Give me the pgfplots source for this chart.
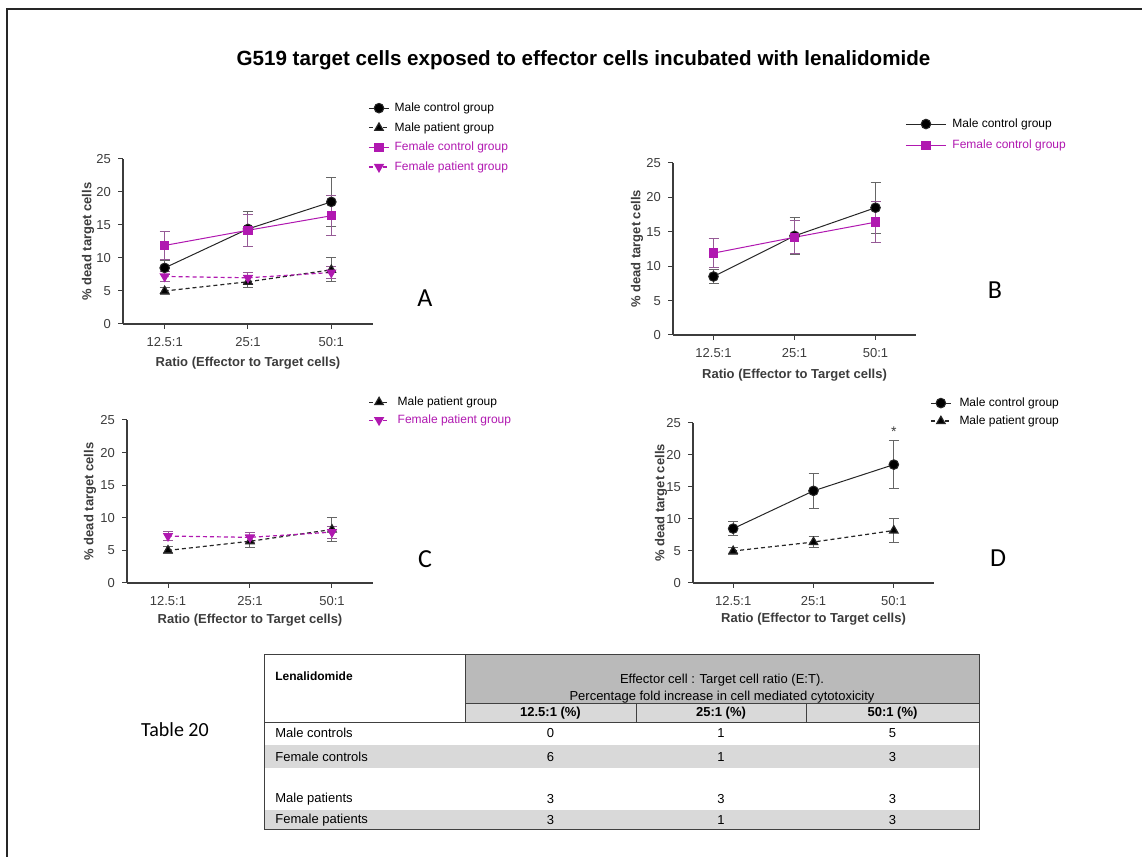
\documentclass[border=0pt]{standalone}
\usepackage{pgfplots}
\pgfplotsset{compat=1.18}
\usepackage{fontspec}
\setmainfont{Liberation Sans}
\newfontfamily\calibri{Carlito}
\definecolor{purp}{RGB}{176,24,176}
\definecolor{purpbar}{RGB}{150,90,150}
\definecolor{axgray}{RGB}{60,60,60}

\pgfplotsset{
  gp/.style={
    scale only axis, anchor=south west,
    xmin=-0.5,xmax=2.5,ymin=0,ymax=25,
    xtick={0,1,2}, xticklabels={12.5:1,25:1,50:1},
    ytick={0,5,10,15,20,25},
    axis x line*=bottom, axis y line*=left,
    axis line style={-, line width=0.6pt, axgray},
    tick align=outside, major tick length=2.5pt,
    tick style={line width=0.5pt, axgray},
    ticklabel style={font=\fontsize{6.5}{7.5}\selectfont, text=axgray},
    xticklabel style={yshift=-0.5pt},
    label style={font=\bfseries\fontsize{6.5}{8}\selectfont, text=axgray},
    xlabel={Ratio (Effector to Target cells)},
    ylabel={\% dead target cells},
    clip=false,
    /pgf/number format/assume math mode=true,
    legend cell align=left,
    legend style={draw=none, fill=none, anchor=north west,
      font=\fontsize{6}{7}\selectfont, inner sep=0pt,
      nodes={inner sep=0pt, text height=4.5pt, text depth=1.2pt},
      row sep=4.1pt, column sep=2.5pt},
    legend image code/.code={\draw[mark repeat=2,mark phase=2,#1] plot coordinates {(0pt,0pt) (5pt,0pt) (10pt,0pt)};},
  },
  ebk/.style={error bars/y dir=both, error bars/y explicit,
    error bars/error bar style={black!60, line width=0.5pt, solid},
    error bars/error mark options={rotate=90, mark size=2.5pt, black!60, line width=0.5pt, solid}},
  ebp/.style={error bars/y dir=both, error bars/y explicit,
    error bars/error bar style={purpbar, line width=0.5pt, solid},
    error bars/error mark options={rotate=90, mark size=2.5pt, purpbar, line width=0.5pt, solid}},
  mc/.style={black!85, line width=0.5pt, mark=*, mark size=2.4pt, mark options={solid, fill=black}, ebk},
  mp/.style={black!85, line width=0.6pt, dash pattern=on 2pt off 1.5pt, mark=triangle*, mark size=2.4pt, mark options={solid, fill=black}, ebk},
  fc/.style={purp, line width=0.5pt, mark=square*, mark size=2.1pt, mark options={solid, fill=purp}, ebp},
  fp/.style={purp, line width=0.6pt, dash pattern=on 2pt off 1.5pt, mark=triangle*, mark size=2.4pt, mark options={solid, fill=purp, rotate=180}, ebp},
}

\begin{document}
\begin{tikzpicture}
% frame
\draw[line width=1pt, black!85] (3.5pt,0pt) -- (3.5pt,424pt) -- (571pt,424pt);
% title
\node[font=\bfseries\fontsize{10.3}{12}\selectfont] at (291.75pt,398.5pt) {G519 target cells exposed to effector cells incubated with lenalidomide};

% Panel A
\begin{axis}[gp, at={(61.5pt,266.5pt)}, width=125pt, height=82.5pt,
  ylabel style={at={(axis description cs:-0.14,0.5)}, anchor=center},
  xlabel style={at={(axis description cs:0.5,-0.236)}, anchor=center},
  legend style={at={(axis description cs:0.98,1.345)}}]
\addplot[mc] coordinates {(0,8.5) +- (0,1.05) (1,14.4) +- (0,2.7) (2,18.5) +- (0,3.7)};
\addlegendentry{Male control group}
\addplot[mp] coordinates {(0,5.0) +- (0,0.55) (1,6.4) +- (0,0.9) (2,8.2) +- (0,1.8)};
\addlegendentry{Male patient group}
\addplot[fc] coordinates {(0,11.9) +- (0,2.15) (1,14.2) +- (0,2.4) (2,16.4) +- (0,3.0)};
\addlegendentry{\textcolor{purp}{Female control group}}
\addplot[fp] coordinates {(0,7.2) +- (0,0.7) (1,7.0) +- (0,0.8) (2,7.8) +- (0,0.9)};
\addlegendentry{\textcolor{purp}{Female patient group}}
\end{axis}

% Panel B
\begin{axis}[gp, at={(336.5pt,261pt)}, width=121.5pt, height=86pt,
  ylabel style={at={(axis description cs:-0.148,0.5)}, anchor=center},
  xlabel style={at={(axis description cs:0.5,-0.233)}, anchor=center},
  legend image code/.code={\draw[mark repeat=2,mark phase=2,#1] plot coordinates {(0pt,0pt) (10pt,0pt) (20pt,0pt)};},
  legend style={at={(axis description cs:0.955,1.262)}, row sep=5pt, column sep=3pt}]
\addplot[mc] coordinates {(0,8.5) +- (0,1.05) (1,14.4) +- (0,2.7) (2,18.5) +- (0,3.7)};
\addlegendentry{Male control group}
\addplot[fc] coordinates {(0,11.9) +- (0,2.15) (1,14.2) +- (0,2.4) (2,16.4) +- (0,3.0)};
\addlegendentry{\textcolor{purp}{Female control group}}
\end{axis}

% Panel C
\begin{axis}[gp, at={(63.5pt,137pt)}, width=123pt, height=81.5pt,
  ylabel style={at={(axis description cs:-0.15,0.5)}, anchor=center},
  xlabel style={at={(axis description cs:0.5,-0.227)}, anchor=center},
  legend style={at={(axis description cs:0.98,1.147)}, row sep=3.3pt, column sep=4pt}]
\addplot[mp] coordinates {(0,5.0) +- (0,0.55) (1,6.4) +- (0,0.9) (2,8.2) +- (0,1.8)};
\addlegendentry{Male patient group}
\addplot[fp] coordinates {(0,7.2) +- (0,0.7) (1,7.0) +- (0,0.8) (2,7.8) +- (0,0.9)};
\addlegendentry{\textcolor{purp}{Female patient group}}
\end{axis}

% Panel D
\begin{axis}[gp, at={(346.5pt,137pt)}, width=120.5pt, height=80pt,
  ylabel style={at={(axis description cs:-0.133,0.5)}, anchor=center},
  xlabel style={at={(axis description cs:0.5,-0.225)}, anchor=center},
  legend style={at={(axis description cs:0.983,1.1625)}, row sep=3.3pt, column sep=4pt}]
\addplot[mc] coordinates {(0,8.5) +- (0,1.05) (1,14.4) +- (0,2.7) (2,18.5) +- (0,3.7)};
\addlegendentry{Male control group}
\addplot[mp] coordinates {(0,5.0) +- (0,0.55) (1,6.4) +- (0,0.9) (2,8.2) +- (0,1.8)};
\addlegendentry{Male patient group}
\node[font=\fontsize{7}{8}\selectfont, text=axgray] at (axis cs:2,23.6) {*};
\end{axis}

% panel letters
\node[font=\calibri\fontsize{13}{15}\selectfont] at (212.5pt,279.5pt) {A};
\node[font=\calibri\fontsize{13}{15}\selectfont] at (497.5pt,283.5pt) {B};
\node[font=\calibri\fontsize{13}{15}\selectfont] at (212.5pt,149pt) {C};
\node[font=\calibri\fontsize{13}{15}\selectfont] at (499pt,149.5pt) {D};

% Table
\node[font=\calibri\fontsize{10}{12}\selectfont] at (87.5pt,63.5pt) {Table 20};
\fill[black!27] (232.5pt,76.5pt) rectangle (489.5pt,101pt);
\fill[black!15] (232.5pt,67pt) rectangle (489.5pt,76.5pt);
\fill[black!15] (132pt,44.5pt) rectangle (489.5pt,56pt);
\fill[black!15] (132pt,13.5pt) rectangle (489.5pt,23.5pt);
\draw[line width=0.5pt, black!75] (132pt,13.5pt) rectangle (489.5pt,101pt);
\draw[line width=0.5pt, black!75] (232.5pt,67pt) -- (232.5pt,101pt);
\draw[line width=0.5pt, black!75] (232.5pt,76.5pt) -- (489.5pt,76.5pt);
\draw[line width=0.5pt, black!75] (132pt,67pt) -- (489.5pt,67pt);
\draw[line width=0.5pt, black!75] (318pt,67pt) -- (318pt,76.5pt);
\draw[line width=0.5pt, black!75] (403pt,67pt) -- (403pt,76.5pt);
\begin{scope}[every node/.style={font=\fontsize{6.5}{8}\selectfont, inner sep=0pt}]
\node[anchor=west, font=\bfseries\fontsize{6}{7}\selectfont] at (137.5pt,90.5pt) {Lenalidomide};
\node at (361pt,88.5pt) {Effector cell : Target cell ratio (E:T).};
\node at (361pt,80pt) {Percentage fold increase in cell mediated cytotoxicity};
\node[font=\bfseries\fontsize{6.5}{8}\selectfont] at (275.25pt,71.75pt) {12.5:1 (\%)};
\node[font=\bfseries\fontsize{6.5}{8}\selectfont] at (360.5pt,71.75pt) {25:1 (\%)};
\node[font=\bfseries\fontsize{6.5}{8}\selectfont] at (446.25pt,71.75pt) {50:1 (\%)};
\node[anchor=west] at (137.5pt,62pt) {Male controls};
\node[anchor=west] at (137.5pt,50pt) {Female controls};
\node[anchor=west] at (137.5pt,29pt) {Male patients};
\node[anchor=west] at (137.5pt,18.5pt) {Female patients};
\node at (275.25pt,62pt) {0}; \node at (360.5pt,62pt) {1}; \node at (446.25pt,62pt) {5};
\node at (275.25pt,50pt) {6}; \node at (360.5pt,50pt) {1}; \node at (446.25pt,50pt) {3};
\node at (275.25pt,29pt) {3}; \node at (360.5pt,29pt) {3}; \node at (446.25pt,29pt) {3};
\node at (275.25pt,18.5pt) {3}; \node at (360.5pt,18.5pt) {1}; \node at (446.25pt,18.5pt) {3};
\end{scope}

\pgfresetboundingbox
\path[use as bounding box] (0pt,0pt) rectangle (571pt,428.5pt);
\end{tikzpicture}
\end{document}
